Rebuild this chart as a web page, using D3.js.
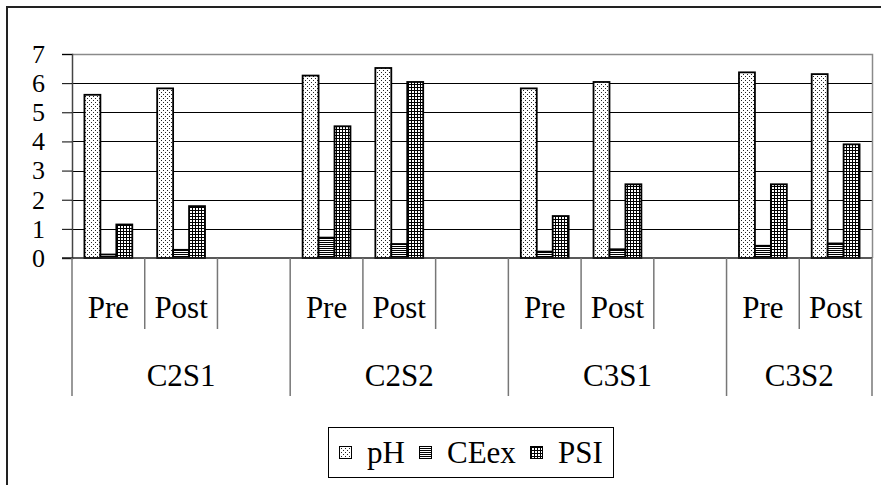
<!DOCTYPE html>
<html>
<head>
<meta charset="utf-8">
<script src="https://cdn.jsdelivr.net/npm/d3@7"></script>
</head>
<body style="margin:0">
<svg id="chart" width="881" height="485"></svg>
<script>
// data
const groups = ["C2S1", "C2S2", "C3S1", "C3S2"];
const phases = ["Pre", "Post"];
const series = ["pH", "CEex", "PSI"];
const yTicks = [0, 1, 2, 3, 4, 5, 6, 7];

// one value per group/phase, in order C2S1 Pre, C2S1 Post, C2S2 Pre, ...
const pH   = [5.60, 5.82, 6.26, 6.52, 5.82, 6.04, 6.37, 6.31];
const CEex = [0.12, 0.28, 0.70, 0.48, 0.22, 0.30, 0.42, 0.50];
const PSI  = [1.15, 1.78, 4.52, 6.04, 1.44, 2.53, 2.53, 3.90];

const valuesBySeries = { pH: pH, CEex: CEex, PSI: PSI };

const width = 881, height = 485;
const margin = { top: 54, left: 72, right: 8, bottom: 227 };
const FONT = "Liberation Serif";

const svg = d3.select("#chart");

// fill patterns
const defs = svg.append("defs");

const pDots = defs.append("pattern")
    .attr("id", "pat-dots")
    .attr("patternUnits", "userSpaceOnUse")
    .attr("width", 4).attr("height", 4);
pDots.append("rect").attr("width", 4).attr("height", 4).attr("fill", "#fff");
pDots.append("rect").attr("x", 1).attr("y", 0).attr("width", 1).attr("height", 1).attr("fill", "#222");
pDots.append("rect").attr("x", 3).attr("y", 2).attr("width", 1).attr("height", 1).attr("fill", "#222");

const pLines = defs.append("pattern")
    .attr("id", "pat-hlines")
    .attr("patternUnits", "userSpaceOnUse")
    .attr("width", 2).attr("height", 2);
pLines.append("rect").attr("width", 2).attr("height", 2).attr("fill", "#fff");
pLines.append("rect").attr("width", 2).attr("height", 1).attr("fill", "#000");

const pGrid = defs.append("pattern")
    .attr("id", "pat-grid")
    .attr("patternUnits", "userSpaceOnUse")
    .attr("width", 3).attr("height", 3);
pGrid.append("rect").attr("width", 3).attr("height", 3).attr("fill", "#fff");
pGrid.append("rect").attr("width", 3).attr("height", 1).attr("fill", "#000");
pGrid.append("rect").attr("width", 1).attr("height", 3).attr("fill", "#000");

const fills = { pH: "url(#pat-dots)", CEex: "url(#pat-hlines)", PSI: "url(#pat-grid)" };

// outer chart frame (runs off the bottom/right of the picture)
svg.append("rect")
    .attr("x", 7).attr("y", 7)
    .attr("width", 900).attr("height", 520)
    .attr("fill", "none")
    .attr("stroke", "#222")
    .attr("stroke-width", 2);

// slots: Pre, Post and an empty spacer after each group except the last
const slots = [];
groups.forEach((g, gi) => {
    phases.forEach((p, pi) => slots.push({ key: g + "|" + p, group: g, phase: p, idx: gi * phases.length + pi }));
    if (gi < groups.length - 1) slots.push({ key: g + "|", group: g, phase: "", idx: -1 });
});

const x0 = d3.scaleBand()
    .domain(slots.map(d => d.key))
    .range([margin.left, width - margin.right - 1]);

const x1 = d3.scaleBand()
    .domain(series)
    .range([0, x0.bandwidth()])
    .paddingOuter(0.78);

const y = d3.scaleLinear()
    .domain([0, 7])
    .range([258, margin.top]);

const plotRight = x0.range()[1];

// gridlines
svg.append("g")
    .selectAll("line")
    .data(yTicks.filter(t => t > 0 && t < 7))
    .join("line")
    .attr("x1", margin.left).attr("x2", plotRight)
    .attr("y1", d => Math.round(y(d)) + 0.5).attr("y2", d => Math.round(y(d)) + 0.5)
    .attr("stroke", "#000");

// plot area border (top + right, grey)
svg.append("path")
    .attr("d", `M${margin.left},${y(7) + 0.5}H${plotRight + 0.5}V${y(0)}`)
    .attr("fill", "none")
    .attr("stroke", "#8a8a8a")
    .attr("stroke-width", 1.5);

// y axis: ticks + domain from d3.axisLeft, labels as plain svg text
const yAxis = d3.axisLeft(y)
    .tickValues(yTicks)
    .tickSize(10)
    .tickFormat("");

const yAxisG = svg.append("g")
    .attr("transform", `translate(${margin.left},0)`)
    .call(yAxis);
yAxisG.select(".domain").attr("stroke", "#444").attr("stroke-width", 1.5);
yAxisG.selectAll(".tick line").attr("stroke", "#000");
yAxisG.selectAll(".tick text").remove();

yTicks.forEach(t => {
    svg.append("text")
        .attr("x", margin.left - 27)
        .attr("y", y(t))
        .attr("dy", "0.34em")
        .attr("text-anchor", "end")
        .attr("font-family", FONT)
        .attr("font-size", 26)
        .style("font-family", FONT, "important")
        .text(t);
});

// bars
const barData = [];
slots.filter(s => s.idx >= 0).forEach(s => {
    series.forEach(k => barData.push({ slot: s.key, series: k, value: valuesBySeries[k][s.idx] }));
});

svg.append("g")
    .selectAll("rect")
    .data(barData)
    .join("rect")
    .attr("x", d => x0(d.slot) + x1(d.series))
    .attr("y", d => y(d.value))
    .attr("width", x1.bandwidth())
    .attr("height", d => y(0) - y(d.value))
    .attr("fill", d => fills[d.series])
    .attr("stroke", "#000")
    .attr("stroke-width", 1.8);

// category axis line at zero
svg.append("line")
    .attr("x1", margin.left - 10).attr("x2", plotRight)
    .attr("y1", y(0)).attr("y2", y(0))
    .attr("stroke", "#222")
    .attr("stroke-width", 1.5);

// category separators
const boundaries = slots.map(s => x0(s.key)).concat([plotRight]);
const groupStarts = [margin.left].concat(
    slots.filter(s => s.phase === "").map(s => x0(s.key) + x0.bandwidth())
).concat([plotRight]);

svg.append("g")
    .selectAll("line")
    .data(boundaries)
    .join("line")
    .attr("x1", d => d).attr("x2", d => d)
    .attr("y1", y(0))
    .attr("y2", d => groupStarts.some(g => Math.abs(g - d) < 0.5) ? 396 : 329)
    .attr("stroke", "#777")
    .attr("stroke-width", 1.5);

// Pre / Post labels
slots.filter(s => s.phase !== "").forEach(s => {
    svg.append("text")
        .attr("x", x0(s.key) + x0.bandwidth() / 2)
        .attr("y", 318)
        .attr("text-anchor", "middle")
        .attr("font-family", FONT)
        .attr("font-size", 31)
        .style("font-family", FONT, "important")
        .text(s.phase);
});

// group labels
groups.forEach((g, i) => {
    svg.append("text")
        .attr("x", (groupStarts[i] + groupStarts[i + 1]) / 2)
        .attr("y", 386)
        .attr("text-anchor", "middle")
        .attr("font-family", FONT)
        .attr("font-size", 31)
        .style("font-family", FONT, "important")
        .text(g);
});

// legend
svg.append("rect")
    .attr("x", 328.5).attr("y", 427.5)
    .attr("width", 285).attr("height", 50)
    .attr("fill", "#fff")
    .attr("stroke", "#000");

const legendX = { pH: 339, CEex: 419, PSI: 530 };
series.forEach(k => {
    svg.append("rect")
        .attr("x", legendX[k] + 0.5).attr("y", 446.5)
        .attr("width", 12).attr("height", 12)
        .attr("fill", fills[k])
        .attr("stroke", "#000");
    svg.append("text")
        .attr("x", legendX[k] + 28)
        .attr("y", 463)
        .attr("font-family", FONT)
        .attr("font-size", 31)
        .style("font-family", FONT, "important")
        .text(k);
});
</script>
</body>
</html>
